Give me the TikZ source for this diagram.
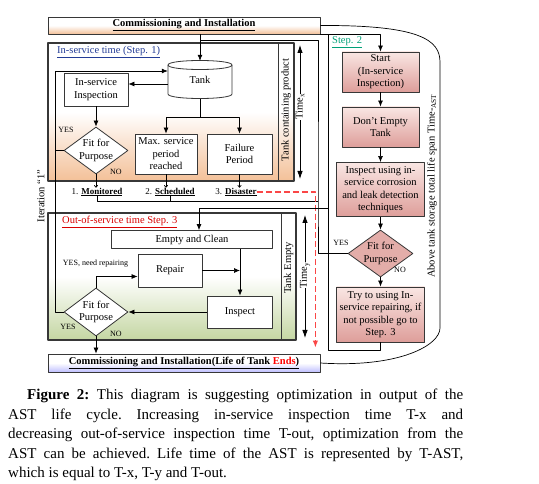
\documentclass[tikz,border=0pt]{standalone}
\usepackage{fontspec}
\setmainfont{Liberation Serif}
\usetikzlibrary{shapes.geometric,arrows.meta}
\definecolor{peach}{RGB}{243,192,152}
\definecolor{sage}{RGB}{196,214,162}
\definecolor{rosy}{RGB}{222,158,154}
\definecolor{rosylight}{RGB}{249,230,227}
\definecolor{linkblue}{RGB}{35,60,150}
\definecolor{stepgreen}{RGB}{0,160,120}
\definecolor{dashred}{RGB}{250,70,70}
\definecolor{edge}{RGB}{55,55,55}
\tikzset{
	boxtext/.style = {align=center, inner sep=0pt, font=\fontsize{10.5}{12.5}\selectfont},
	proc/.style = {boxtext, rectangle, draw=edge, fill=white, line width=0.8pt},
	stepbox/.style = {boxtext, rectangle, draw=edge, line width=0.9pt, top color=rosylight, bottom color=rosy},
	decision/.style = {diamond, draw=edge, fill=white, inner sep=0pt, line width=0.8pt},
	stepdecision/.style = {decision, fill=rosy!85},
	banner/.style = {boxtext, draw=edge, line width=0.8pt, font=\fontsize{10.5}{12.5}\selectfont\bfseries, minimum width=272pt},
	outcome/.style = {inner sep=0pt, font=\fontsize{9}{10}\selectfont},
	small/.style = {inner sep=0pt, font=\fontsize{8}{9}\selectfont},
	sidetext/.style = {boxtext, rotate=90},
	captext/.style = {inner sep=0pt, text width=455pt, align=justify, font=\fontsize{15}{19.5}\selectfont\frenchspacing},
	link/.style = {draw=black, line width=0.7pt},
	arr/.style = {link, -{Latex[length=6pt,width=5pt]}},
	dblarr/.style = {link, line width=0.8pt, {Latex[length=8pt,width=5.5pt]}-{Latex[length=8pt,width=5.5pt]}},
	sarr/.style = {link, -{To[length=2.5pt,width=4pt]}},
	reddash/.style = {draw=dashred, line width=1.3pt, dash pattern=on 6pt off 3pt, -{Latex[length=7pt,width=5.5pt]}}
}
\begin{document}
\begin{tikzpicture}[x=1pt, y=-1pt, line join=round]
	\useasboundingbox (0,0) rectangle (539,484);
	\path[draw=edge, line width=1.2pt, top color=white, bottom color=peach, middle color=white] (48,43) rectangle (294,181);
	\draw[edge, line width=1pt] (278,43) -- (278,181);
	\path[draw=edge, line width=1.2pt, top color=white, bottom color=sage, middle color=white] (48,213) rectangle (296,340);
	\draw[edge, line width=1pt] (281,213) -- (281,340);
	
	\node[banner, minimum height=17pt, top color=white, bottom color=peach, middle color=white] (topbox) at (184,25.5) {\underline{Commissioning and Installation}};
	\node[banner, minimum height=18pt, top color=white, bottom color=blue!25, middle color=white] (endbox) at (184,363) {\underline{Commissioning and Installation(Life of Tank \textcolor{red}{Ends})}};
	
	\node[boxtext, text=linkblue, anchor=west] (step1) at (57,52) {\underline{In-service time (Step. 1)}};
	\node[boxtext, text=red!85!black, anchor=west] (step3) at (62,222) {\underline{Out-of-service time Step. 3}};
	\node[boxtext, text=stepgreen, anchor=west] (step2) at (332,42) {\underline{Step. 2}};
	
	\draw[edge, line width=0.8pt, fill=white] (168,65) -- (168,94) .. controls (168,100) and (232,100) .. (232,94) -- (232,65) .. controls (232,59) and (168,59) .. (168,65);
	\draw[edge, line width=0.8pt] (168,65) .. controls (168,71) and (232,71) .. (232,65);
	\node[boxtext, minimum width=64pt, minimum height=38pt] (tank) at (200,80) {Tank};
	\node[proc, minimum width=64pt, minimum height=33pt] (insp1) at (96,89.5) {In-service\\Inspection};
	\node[decision, minimum width=64pt, minimum height=47pt, label={[boxtext]center:{Fit for\\Purpose}}] (fit1) at (96,150.5) {};
	\node[proc, minimum width=62pt, minimum height=40pt] (maxsvc) at (166,154) {Max. service\\period\\reached};
	\node[proc, minimum width=65pt, minimum height=40pt] (failure) at (239.5,154) {Failure\\Period};
	\node[outcome] (mon) at (97,192) {1. \underline{\textbf{Monitored}}};
	\node[outcome] (sched) at (170,192) {2. \underline{\textbf{Scheduled}}};
	\node[outcome] (disaster) at (236,192) {3. \underline{\textbf{Disaster}}};
	\node[small] (yes1) at (66,129.5) {YES};
	\node[small] (no1) at (116,171.5) {NO};
	\node[sidetext] (prodtxt) at (286,110) {Tank containing product};
	\node[sidetext] (iter) at (41,196) {Iteration ``1''};
	
	\node[proc, minimum width=161pt, minimum height=18pt] (empty) at (192,239.5) {Empty and Clean};
	\node[proc, minimum width=64pt, minimum height=33pt] (repair) at (170,270.5) {Repair};
	\node[proc, minimum width=65pt, minimum height=32pt] (inspect) at (240,312) {Inspect};
	\node[decision, minimum width=64pt, minimum height=48pt, label={[boxtext]center:{Fit for\\Purpose}}] (fit3) at (96,312) {};
	\node[small] (yesrep) at (95.5,263.5) {YES, need repairing};
	\node[small] (yes3) at (68,327) {YES};
	\node[small] (no3) at (116,333.5) {NO};
	\node[sidetext] (emptytxt) at (288.5,268) {Tank Empty};
	
	\node[stepbox, minimum width=77pt, minimum height=40pt] (start) at (380.5,72) {Start\\(In-service\\Inspection)};
	\node[stepbox, minimum width=77pt, minimum height=40pt] (dontempty) at (380.5,127) {Don't Empty\\Tank};
	\node[stepbox, minimum width=88pt, minimum height=54pt] (inspuse) at (380.5,189.5) {Inspect using in-\\service corrosion\\and leak detection\\techniques};
	\node[stepdecision, minimum width=65pt, minimum height=47pt, label={[boxtext]center:{Fit for\\Purpose}}] (fit2) at (380.5,253.5) {};
	\node[stepbox, minimum width=88pt, minimum height=55pt] (trybox) at (380.5,314.5) {Try to using In-\\service repairing, if\\not possible go to\\Step. 3};
	\node[small] (yes2) at (341,243) {YES};
	\node[small] (no2) at (400,270) {NO};
	\node[sidetext] (lifespan) at (432,186) {Above tank storage total life span Time-\textsubscript{AST}};
	
	\coordinate (jtop) at (200,40);
	\coordinate (jright) at (318,40);
	\coordinate (jlow) at (318,201);
	\coordinate (s2top) at (328,34);
	\coordinate (s2mid) at (328,208);
	\coordinate (s2low) at (328,350);
	\coordinate (tsplit) at (200,117);
	\coordinate (loopx) at (55,71);
	\coordinate (tx1) at (300,45);
	\coordinate (tx2) at (300,179);
	\coordinate (ty1) at (305,215);
	\coordinate (ty2) at (305,338);
	
	\draw[arr] (tank.north |- topbox.south) -- (tank.north);
	\draw[link] (jtop) -- (jright) -- (jlow) |- (fit2.west);
	\draw[link] (mon.south) |- (jlow);
	\draw[link] (sched.south) -- (sched.south |- jlow);
	\draw[arr] (topbox.south east) -| (start.north);
	\draw[arr] ([yshift=-4pt]tank.west) -- ([yshift=-4pt]tank.west -| insp1.east);
	\draw[arr] (insp1.south) -- (fit1.north);
	\draw[arr] (tank.south) -- (tsplit) -| (maxsvc.north);
	\draw[arr] (tsplit) -| (failure.north);
	\draw[sarr] (fit1.south) -- (fit1.south |- mon.north);
	\draw[sarr] (maxsvc.south) -- (maxsvc.south |- sched.north);
	\draw[sarr] (failure.south) -- (failure.south |- disaster.north);
	\draw[arr] (fit3.west) -| (loopx) -- ([yshift=9pt]tank.west);
	\draw[link] (fit1.west) -- (fit1.west -| loopx);
	\draw[reddash] (disaster.east) -| ([xshift=-5pt,yshift=6pt]endbox.north east);
	
	\draw[arr] (s2mid) -| ([xshift=7pt]empty.north);
	\draw[arr] (empty.south -| inspect.north) -- (inspect.north);
	\draw[arr] (repair.east) -- (repair.east -| inspect.north);
	\draw[arr] (inspect.west) -- (fit3.east);
	\draw[arr] (fit3.north) |- ([yshift=-6pt]repair.west);
	\draw[arr] (fit3.south) -- (fit3.south |- endbox.north);
	
	\draw[arr] (start) -- (dontempty);
	\draw[arr] (dontempty) -- (inspuse);
	\draw[arr] (inspuse) -- (fit2);
	\draw[arr] (fit2) -- (trybox);
	\draw[link] (trybox.south) |- (s2low) -- (s2top);
	
	\draw[dblarr] (tx1) -- (tx2) node[sidetext, fill=white, pos=0.46] (timex) {Time\textsubscript{x}};
	\draw[dblarr] (ty1) -- (ty2) node[sidetext, fill=white, pos=0.49] (timey) {Time\textsubscript{y}};
	\draw[link] (topbox.east) .. controls (420,25) and (440,40) .. (440,62) -- (440,328) .. controls (440,345) and (400,368) .. (endbox.east);
	
	\node[captext, anchor=north west] (caption) at (8,389) {\hspace*{19pt}\textbf{Figure 2:} This diagram is suggesting optimization in output of the\linebreak AST life cycle. Increasing in-service inspection time T-x and\linebreak decreasing out-of-service inspection time T-out, optimization from the\linebreak AST can be achieved. Life time of the AST is represented by T-AST,\linebreak which is equal to T-x, T-y and T-out.};
\end{tikzpicture}
\end{document}
